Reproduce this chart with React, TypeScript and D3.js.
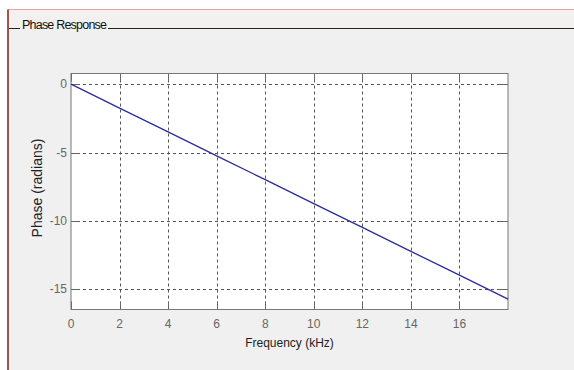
import { useEffect, useRef } from 'react';
import * as d3 from 'd3';

// Phase response (linear phase)
const freqKHz = [0, 2, 4, 6, 8, 10, 12, 14, 16, 18];
const phaseRad = [0, -1.75, -3.49, -5.24, -6.98, -8.73, -10.47, -12.22, -13.96, -15.71];
const xTicks = [0, 2, 4, 6, 8, 10, 12, 14, 16];
const yTicks = [0, -5, -10, -15];

export default function App() {
  const svgRef = useRef<SVGSVGElement>(null);

  useEffect(() => {
    if (!svgRef.current) return;
    const width = 574;
    const height = 370;
    const plot = { left: 71, top: 73.5, right: 508, bottom: 309.5 };
    const font = '"Liberation Sans", Arial, sans-serif';

    const svg = d3.select(svgRef.current);
    svg.selectAll('*').remove();
    svg.attr('width', width).attr('height', height);

    // Window background
    svg.append('rect').attr('width', width).attr('height', height).attr('fill', '#fff');
    svg.append('rect')
      .attr('x', 8).attr('y', 9.5).attr('width', width - 8).attr('height', height - 9.5)
      .attr('fill', '#f0f0f0');
    svg.append('rect')
      .attr('x', 8).attr('y', 10).attr('width', width - 8).attr('height', 17)
      .attr('fill', '#f3f0f0');
    svg.append('line')
      .attr('x1', 8).attr('x2', width).attr('y1', 9.5).attr('y2', 9.5)
      .attr('stroke', '#e8a0a0').attr('stroke-width', 1);
    svg.append('line')
      .attr('x1', 8).attr('x2', 8).attr('y1', 9.5).attr('y2', height)
      .attr('stroke', '#8b1a1a').attr('stroke-width', 1.5);

    // Group box frame with title
    svg.append('line')
      .attr('x1', 9).attr('x2', 20).attr('y1', 28.5).attr('y2', 28.5)
      .attr('stroke', '#222');
    svg.append('line')
      .attr('x1', 108).attr('x2', width).attr('y1', 28.5).attr('y2', 28.5)
      .attr('stroke', '#222');
    svg.append('text')
      .attr('x', 22).attr('y', 29)
      .attr('font-family', font).attr('font-size', 12.5).attr('fill', '#111')
      .attr('textLength', 85)
      .text('Phase Response');

    const x = d3.scaleLinear().domain([0, 18]).range([plot.left, plot.right]);
    const y = d3.scaleLinear().domain([-16.47, 0.78]).range([plot.bottom, plot.top]);

    // Plot area
    svg.append('rect')
      .attr('x', plot.left).attr('y', plot.top)
      .attr('width', plot.right - plot.left).attr('height', plot.bottom - plot.top)
      .attr('fill', '#fff');

    // Grid
    const grid = svg.append('g')
      .attr('stroke', '#555').attr('stroke-width', 1).attr('stroke-dasharray', '3,3');
    xTicks.slice(1).forEach((t) => {
      grid.append('line')
        .attr('x1', Math.round(x(t)) + 0.5).attr('x2', Math.round(x(t)) + 0.5)
        .attr('y1', plot.top).attr('y2', plot.bottom);
    });
    yTicks.forEach((t) => {
      grid.append('line')
        .attr('x1', plot.left).attr('x2', plot.right)
        .attr('y1', Math.round(y(t)) + 0.5).attr('y2', Math.round(y(t)) + 0.5);
    });

    // Ticks (inward) on all four sides
    const ticks = svg.append('g').attr('stroke', '#666').attr('stroke-width', 1);
    const tl = 8;
    xTicks.forEach((t) => {
      const px = Math.round(x(t)) + 0.5;
      ticks.append('line').attr('x1', px).attr('x2', px).attr('y1', plot.bottom).attr('y2', plot.bottom - tl);
      ticks.append('line').attr('x1', px).attr('x2', px).attr('y1', plot.top).attr('y2', plot.top + tl);
    });
    yTicks.forEach((t) => {
      const py = Math.round(y(t)) + 0.5;
      ticks.append('line').attr('x1', plot.left).attr('x2', plot.left + tl).attr('y1', py).attr('y2', py);
      ticks.append('line').attr('x1', plot.right).attr('x2', plot.right - tl).attr('y1', py).attr('y2', py);
    });

    // Frame
    svg.append('rect')
      .attr('x', plot.left).attr('y', plot.top)
      .attr('width', plot.right - plot.left).attr('height', plot.bottom - plot.top)
      .attr('fill', 'none').attr('stroke', '#777').attr('stroke-width', 1);

    // Line
    const line = d3.line<number>()
      .x((_, i) => x(freqKHz[i]))
      .y((d) => y(d));
    svg.append('path')
      .datum(phaseRad)
      .attr('fill', 'none')
      .attr('stroke', '#2b2b9c')
      .attr('stroke-width', 1.3)
      .attr('d', line);

    // Tick labels
    svg.append('g')
      .selectAll('text')
      .data(xTicks)
      .enter()
      .append('text')
      .attr('x', (d) => x(d))
      .attr('y', 328)
      .attr('text-anchor', 'middle')
      .attr('font-family', font).attr('font-size', 12).attr('fill', '#666')
      .text((d) => String(d));
    svg.append('g')
      .selectAll('text')
      .data(yTicks)
      .enter()
      .append('text')
      .attr('x', 67)
      .attr('y', (d) => y(d) + 4)
      .attr('text-anchor', 'end')
      .attr('font-family', font).attr('font-size', 12).attr('fill', '#666')
      .text((d) => String(d));

    // Axis labels
    svg.append('text')
      .attr('x', (plot.left + plot.right) / 2)
      .attr('y', 347)
      .attr('text-anchor', 'middle')
      .attr('font-family', font).attr('font-size', 12).attr('fill', '#222')
      .text('Frequency (kHz)');
    svg.append('text')
      .attr('transform', `translate(42,188) rotate(-90)`)
      .attr('text-anchor', 'middle')
      .attr('font-family', font).attr('font-size', 14).attr('fill', '#222')
      .text('Phase (radians)');
  }, []);

  return (
    <div style={{ position: 'absolute', left: 0, top: 0 }}>
      <svg ref={svgRef} style={{ display: 'block' }} />
    </div>
  );
}
